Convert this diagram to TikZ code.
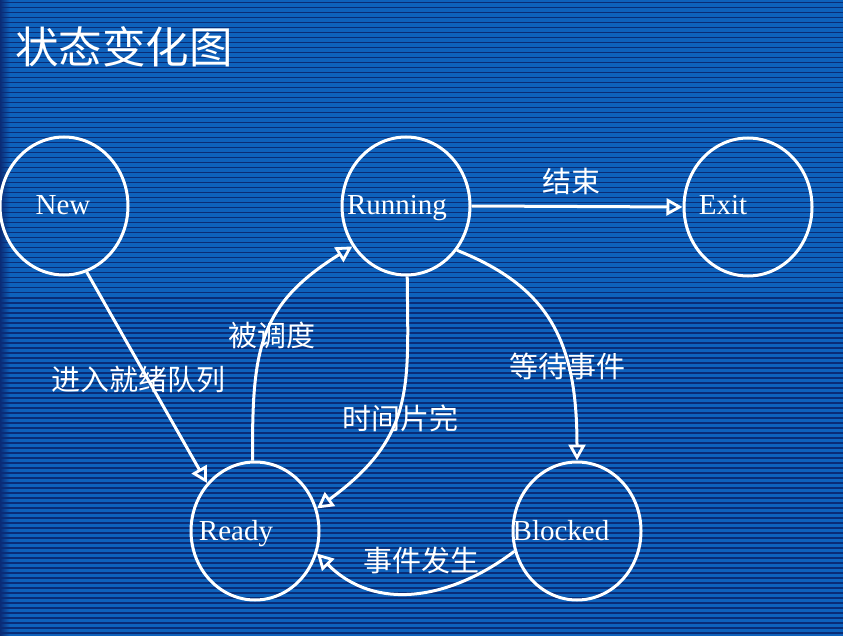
\documentclass[tikz,border=0pt]{standalone}
\usepackage{fontspec}
\setmainfont{Liberation Serif}
\newfontfamily\cjk{Noto Sans CJK SC}
\usetikzlibrary{shapes.geometric,arrows.meta}
\definecolor{bgblue}{RGB}{14,98,188}
\definecolor{stripe}{RGB}{10,44,118}
\begin{document}
\begin{tikzpicture}[x=1pt,y=-1pt,
  state/.style={ellipse,draw=white,line width=3pt,minimum width=128pt,minimum height=138pt,inner sep=0pt},
  statelabel/.style={text=white,font=\fontsize{29}{31}\selectfont,inner sep=0pt,anchor=base},
  edgelabel/.style={text=white,font=\cjk\fontsize{29}{31}\selectfont,inner sep=0pt},
  trans/.style={draw=white,line width=3pt,-{Triangle[open,length=16pt,width=17pt,line width=2.8pt]}}
]
\useasboundingbox (0,0) rectangle (843,636);

% striped blue backdrop, a little darker at the left edge
\fill[bgblue] (0,0) rectangle (843,636);
\shade[left color=stripe, right color=bgblue] (0,0) rectangle (10,636);
\foreach \k in {0,...,127}
  \fill[stripe] (0,{2+5*\k}) rectangle (843,{3.5+5*\k});

% title
\node[anchor=west,text=white,font=\cjk\fontsize{43.5}{45}\selectfont,inner sep=0pt] (title) at (15,47) {状态变化图};

% states
\node[state] (new) at (64,206) {};
\node[state] (running) at (406,206) {};
\node[state] (exit) at (748,207) {};
\node[state] (ready) at (255,531) {};
\node[state] (blocked) at (577,531) {};

\node[statelabel] (newtxt) at (63,215) {New};
\node[statelabel] (runtxt) at (397,215) {Running};
\node[statelabel] (exittxt) at (723,215) {Exit};
\node[statelabel] (readytxt) at (236,540) {Ready};
\node[statelabel] (blocktxt) at (561,540) {Blocked};

% transitions
\draw[trans] (new.289) -- (ready.135);
\draw[trans] (running.east) -- (exit.west);
\draw[trans] (ready.92) .. controls (252,350) and (258,305) .. (running.217);
\draw[trans] (running.271) .. controls (408,386) and (416,436) .. (ready.20);
\draw[trans] (running.319) .. controls (549,287) and (577,341) .. (blocked.90);
\draw[trans] (blocked.198) .. controls (450,600) and (375,612) .. (ready.340);

% transition labels
\node[edgelabel] (lbexit) at (571,181) {结束};
\node[edgelabel] (lbsched) at (272,335) {被调度};
\node[edgelabel] (lbadmit) at (138,380) {进入就绪队列};
\node[edgelabel] (lbwait) at (567,366) {等待事件};
\node[edgelabel] (lbslice) at (400,418) {时间片完};
\node[edgelabel] (lbevent) at (421,560) {事件发生};
\end{tikzpicture}
\end{document}
